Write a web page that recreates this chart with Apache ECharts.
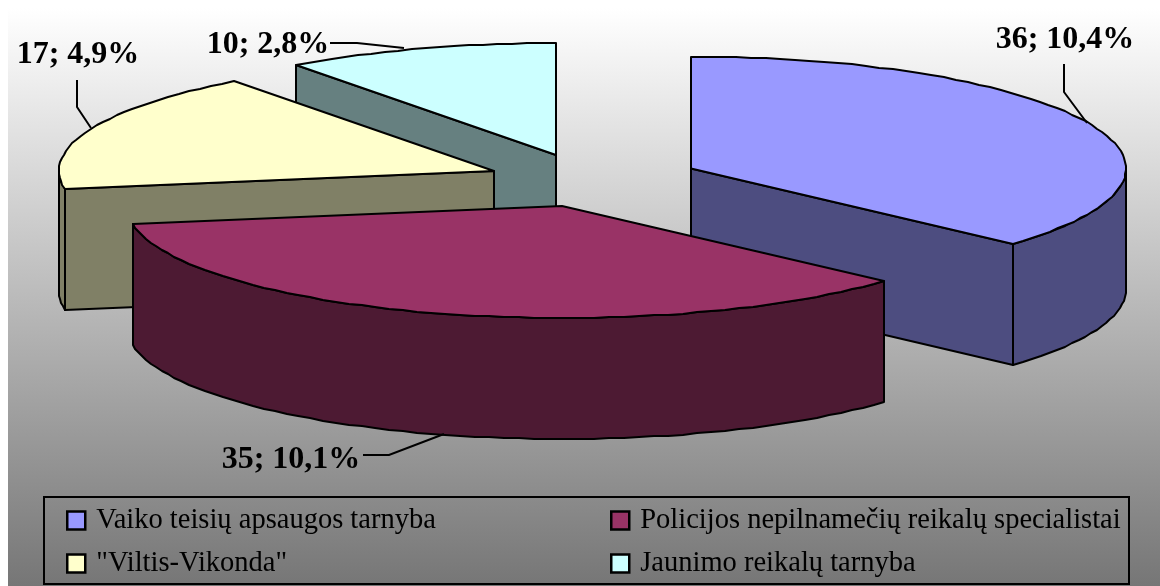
<!DOCTYPE html>
<html>
<head>
<meta charset="utf-8">
<style>html,body{margin:0;padding:0;background:#fff}#c{width:1160px;height:586px}</style>
<script src="https://cdn.jsdelivr.net/npm/echarts@6/dist/echarts.min.js"></script>
</head>
<body>
<div id="c"></div>
<script>
const sliceNames = ['Vaiko teisių apsaugos tarnyba', 'Policijos nepilnamečių reikalų specialistai', '"Viltis-Vikonda"', 'Jaunimo reikalų tarnyba'];
const sliceValues = [36, 35, 17, 10];
const slicePercents = [10.4, 10.1, 4.9, 2.8];
const topColors = ['#9999FF', '#993366', '#FFFFCC', '#CCFFFF'];
const sideColors = ['#4D4D80', '#4D1A33', '#808066', '#668080'];

// Layout of the tilted, exploded pie (not data)
const RX = 435, RY = 112, DEPTH = 121;
const apexes = [[691, 168.5], [562, 206], [494, 171], [556, 155]];
const drawOrder = [3, 2, 0, 1];
const labelAt = [[1065, 40], [291, 460], [78, 55], [268, 45]];
const leaders = [
  [[1064, 64], [1064, 92], [1087, 123]],
  [[363, 455], [389, 455], [444, 434]],
  [[77, 80], [77, 107], [91, 128]],
  [[330, 43], [357, 43], [404, 48]]
];
const legendAt = [[66, 506], [610, 506], [66, 549], [610, 549]];

const total = sliceValues.reduce((a, b) => a + b, 0);
const starts = [];
sliceValues.reduce((acc, v, i) => { starts[i] = acc; return acc + v / total * 360; }, -90);

function pt(c, deg, dy) {
  const r = deg * Math.PI / 180;
  return [Math.round(c[0] + RX * Math.cos(r)), Math.round(c[1] + RY * Math.sin(r) + (dy || 0))];
}
function arc(c, a0, a1, dy) {
  const out = [], n = Math.max(1, Math.ceil(Math.abs(a1 - a0) / 2));
  for (let i = 0; i <= n; i++) out.push(pt(c, a0 + (a1 - a0) * i / n, dy));
  return out;
}
function poly(points, fill) {
  return { type: 'polygon', shape: { points },
    style: { fill, stroke: '#000', lineWidth: 2, lineJoin: 'round' } };
}
function renderSlice(i, params, api) {
  const c = apexes[i];
  const a0 = starts[i], a1 = a0 + api.value(0) / total * 360;
  const lower = [c[0], c[1] + DEPTH];
  const kids = [];
  const inLeft = a => { const m = ((a % 360) + 360) % 360; return m > 90 && m < 270; };
  const inRight = a => { const m = ((a % 360) + 360) % 360; return m < 90 || m > 270; };
  if (inLeft(a0)) {
    kids.push(poly([c, pt(c, a0), pt(c, a0, DEPTH), lower], sideColors[i]));
  }
  if (inRight(a1)) {
    kids.push(poly([c, pt(c, a1), pt(c, a1, DEPTH), lower], sideColors[i]));
  }
  const r0 = Math.max(a0, 0), r1 = Math.min(a1, 180);
  if (r1 > r0) {
    kids.push(poly(arc(c, r0, r1, 0).concat(arc(c, r1, r0, DEPTH)), sideColors[i]));
  }
  kids.push(poly([c].concat(arc(c, a0, a1, 0)), topColors[i]));
  kids.push({ type: 'polyline', shape: { points: leaders[i] },
    style: { fill: 'none', stroke: '#000', lineWidth: 2 } });
  kids.push({ type: 'text', x: labelAt[i][0], y: labelAt[i][1],
    style: { text: api.value(0) + '; ' + slicePercents[i].toFixed(1).replace('.', ',') + '%',
      fontFamily: '"Liberation Serif"', fontWeight: 'bold', fontSize: 32, fill: '#000',
      align: 'center', verticalAlign: 'middle' } });
  return { type: 'group', children: kids };
}

const chart = echarts.init(document.getElementById('c'), null, { renderer: 'canvas' });
chart.setOption({
  animation: false,
  graphic: [
    { type: 'rect', z: -1, shape: { x: 8, y: 8, width: 1152, height: 578 },
      style: { fill: new echarts.graphic.LinearGradient(0, 0, 0, 1, [
        { offset: 0, color: '#ffffff' }, { offset: 1, color: '#767676' }]) } },
    { type: 'rect', z: 0, shape: { x: 44, y: 497, width: 1085, height: 87 },
      style: { fill: 'none', stroke: '#000', lineWidth: 2 } }
  ],
  legend: sliceNames.map((name, i) => ({
    data: [name], left: legendAt[i][0], top: legendAt[i][1], padding: 0,
    icon: 'rect', itemWidth: 18, itemHeight: 18, selectedMode: false,
    itemStyle: { borderColor: '#000', borderWidth: 2.5 },
    textStyle: { fontFamily: '"Liberation Serif"', fontSize: 28.5, color: '#000', padding: [0, 0, 0, 6] }
  })),
  series: drawOrder.map((i, zi) => ({
    type: 'custom', name: sliceNames[i], coordinateSystem: 'none', z: 2 + zi,
    silent: true, itemStyle: { color: topColors[i] },
    data: [[sliceValues[i]]],
    renderItem: (params, api) => renderSlice(i, params, api)
  }))
});
</script>
</body>
</html>
